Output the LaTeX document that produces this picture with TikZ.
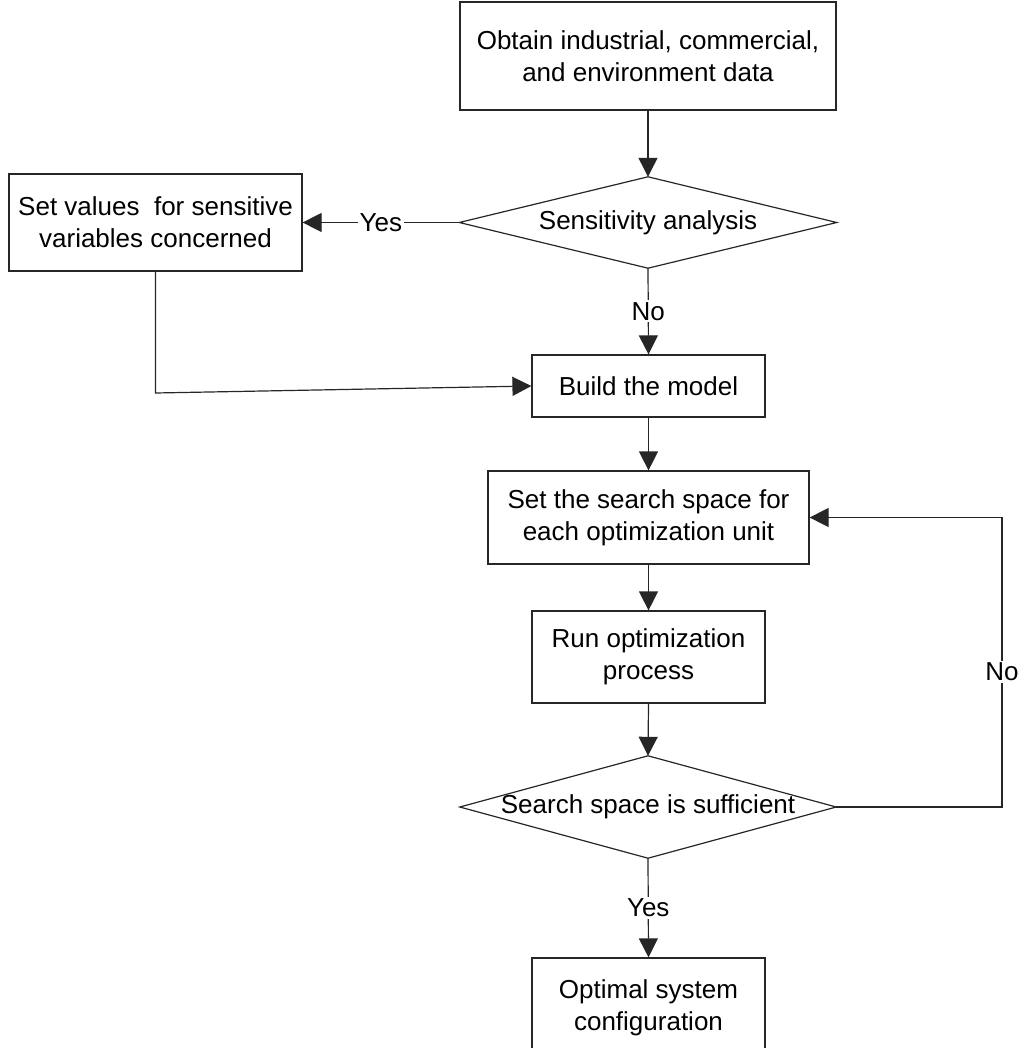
\documentclass[tikz,border=0pt]{standalone}
\usepackage{fontspec}
\setmainfont{Liberation Sans}
\usetikzlibrary{arrows.meta}
\begin{document}
\begin{tikzpicture}[x=1pt,y=-1pt,
  every node/.style={font=\fontsize{26}{32}\selectfont, align=center, inner sep=0pt},
  procbox/.style={draw=black!85, line width=1.2pt, rectangle},
  decbox/.style={rectangle, draw=none},
  conn/.style={draw=black!85, line width=1.2pt},
  arr/.style={conn, -{Triangle[length=19pt,width=19pt]}},
  lbl/.style={fill=white, inner sep=2pt}]
\useasboundingbox (0,0) rectangle (1018,1048);
\clip (0,0) rectangle (1018,1048);
% nodes
\node[procbox, minimum width=376pt, minimum height=108pt] (obtain) at (648,56)
  {Obtain industrial, commercial,\\and environment data};
\node[decbox, minimum width=377pt, minimum height=91pt] (sens) at (648,222.5)
  {Sensitivity analysis};
\draw[conn] (sens.north) -- (sens.east) -- (sens.south) -- (sens.west) -- cycle;
\node[procbox, minimum width=293pt, minimum height=97pt] (setval) at (155.5,222.5)
  {Set values\ \ for sensitive\\variables concerned};
\node[procbox, minimum width=233pt, minimum height=62pt] (build) at (648.5,386)
  {Build the model};
\node[procbox, minimum width=321pt, minimum height=93pt] (search) at (648.5,517.5)
  {Set the search space for\\each optimization unit};
\node[procbox, minimum width=233pt, minimum height=92pt] (run) at (648.5,657)
  {Run optimization\\process};
\node[decbox, minimum width=376pt, minimum height=102pt] (suff) at (648,807)
  {Search space is sufficient};
\draw[conn] (suff.north) -- (suff.east) -- (suff.south) -- (suff.west) -- cycle;
\node[procbox, minimum width=233pt, minimum height=100pt] (opt) at (648.5,1008)
  {Optimal system\\configuration};
% connectors
\draw[arr] (obtain.south) -- (sens.north);
\draw[arr] (sens.west) -- node[lbl] (yes1) {Yes} (setval.east);
\draw[arr] (sens.south) -- node[lbl] (no1) {No} (build.north);
\coordinate (bend1) at (155.5,393);
\draw[arr] (setval.south) -- (bend1) -- (build.west);
\draw[arr] (build.south) -- (search.north);
\draw[arr] (search.south) -- (run.north);
\draw[arr] (run.south) -- (suff.north);
\draw[arr] (suff.south) -- node[lbl] (yes2) {Yes} (opt.north);
\coordinate (fb1) at (1002,807);
\coordinate (fb2) at (1002,517.5);
\draw[arr] (suff.east) -- (fb1) -- node[lbl, pos=0.466] (no2) {No} (fb2) -- (search.east);
\end{tikzpicture}
\end{document}
